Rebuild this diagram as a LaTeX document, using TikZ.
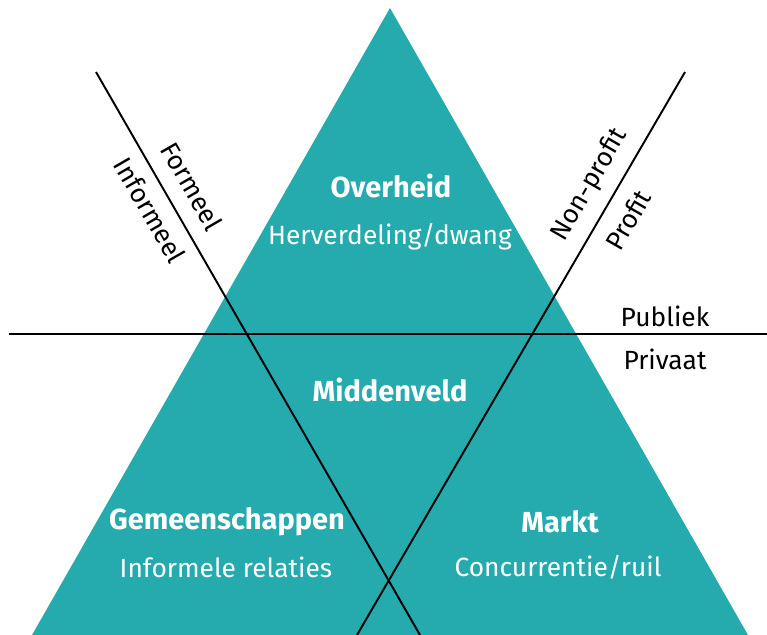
\documentclass[tikz,border=0pt]{standalone}
\usepackage{fontspec}
\setmainfont{Fira Sans}
\usepackage{xcolor}
\definecolor{teal}{RGB}{37,170,173}

\begin{document}
\begin{tikzpicture}[
    x=0.02cm, y=-0.02cm,
    lbl/.style={font=\fontsize{15}{18}\selectfont},
    ttl/.style={font=\fontsize{16.5}{19}\selectfont\bfseries, text=white},
    sub/.style={font=\fontsize{15}{18}\selectfont, text=white},
    ln/.style={line width=1.1pt, black}
]
\useasboundingbox (0,0) rectangle (767,635);

% triangle
\coordinate (apex) at (390,8);
\coordinate (bl) at (32,635);
\coordinate (br) at (748,635);
\fill[teal] (apex) -- (bl) -- (br) -- cycle;

% dividing lines
\coordinate (h1) at (9,334);
\coordinate (h2) at (767,334);
\coordinate (l1) at (96,72);
\coordinate (l2) at (420,635);
\coordinate (r1) at (685,72);
\coordinate (r2) at (357,635);
\draw[ln] (h1) -- (h2);
\draw[ln] (l1) -- (l2);
\draw[ln] (r1) -- (r2);

% sector texts
\node[ttl] (ovh) at (391,186) {Overheid};
\node[sub] (ovhs) at (390,237) {Herverdeling/dwang};
\node[ttl] (mid) at (390,390) {Middenveld};
\node[ttl] (gem) at (227,522) {Gemeenschappen};
\node[sub] (gems) at (226,567) {Informele relaties};
\node[ttl] (mkt) at (560,522) {Markt};
\node[sub] (mkts) at (558,567) {Concurrentie/ruil};

% axis labels
\node[lbl] (pub) at (665,316) {Publiek};
\node[lbl] (pri) at (665,359) {Privaat};
\node[lbl, rotate=-60] (frm) at (192,186) {Formeel};
\node[lbl, rotate=-60] (inf) at (150,210) {Informeel};
\node[lbl, rotate=60] (np) at (590,185) {Non-profit};
\node[lbl, rotate=60] (pr) at (628,220) {Profit};
\end{tikzpicture}
\end{document}
